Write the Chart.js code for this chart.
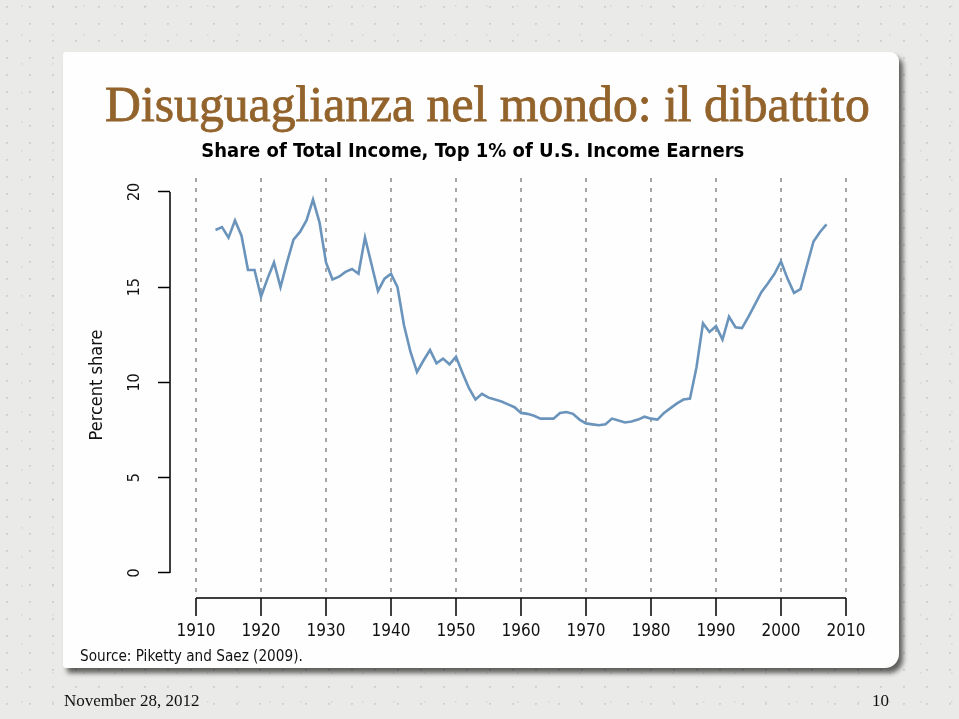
<!DOCTYPE html>
<html><head><meta charset="utf-8">
<script src="https://cdn.jsdelivr.net/npm/chart.js@4"></script>
<style>
html,body{margin:0;padding:0;width:959px;height:719px;overflow:hidden;}
body{background-color:#eaeae8;
  background-image:radial-gradient(circle at 30% 40%, rgba(110,110,110,0.22) 0.7px, transparent 1.3px),
                   radial-gradient(circle at 70% 20%, rgba(140,140,140,0.18) 0.6px, transparent 1.2px);
  background-size:23px 17px, 31px 29px;}
#panel{position:absolute;left:63px;top:52px;width:836px;height:616px;background:#fefefe;border-radius:3px 9px 14px 3px;box-shadow:4px 5px 5px rgba(0,0,0,0.6);}
#slideTitle{position:absolute;left:105px;white-space:nowrap;font-family:'Liberation Serif','Times New Roman',serif;color:#93632c;-webkit-text-stroke:0.8px #93632c;}
.foot{position:absolute;font-family:'Liberation Serif','Times New Roman',serif;color:#111;white-space:nowrap;font-size:17px;line-height:17px;}
#wrap{position:absolute;left:0;top:0;width:959px;height:719px;}
</style></head>
<body>
<div id="panel"></div>
<div id="slideTitle">Disuguaglianza nel mondo: il dibattito</div>
<div id="wrap"><canvas id="c" width="959" height="719"></canvas></div>
<div class="foot" id="date" style="left:64px;top:692px;">November 28, 2012</div>
<div class="foot" id="page" style="left:872px;top:692px;">10</div>
<script>
// ---- data ----
const years = [1913,1914,1915,1916,1917,1918,1919,1920,1921,1922,1923,1924,1925,1926,1927,1928,1929,
  1930,1931,1932,1933,1934,1935,1936,1937,1938,1939,1940,1941,1942,1943,1944,1945,1946,1947,1948,1949,
  1950,1951,1952,1953,1954,1955,1956,1957,1958,1959,1960,1961,1962,1963,1964,1965,1966,1967,1968,1969,
  1970,1971,1972,1973,1974,1975,1976,1977,1978,1979,1980,1981,1982,1983,1984,1985,1986,1987,1988,1989,
  1990,1991,1992,1993,1994,1995,1996,1997,1998,1999,2000,2001,2002,2003,2004,2005,2006,2007];
const share = [18.0,18.15,17.6,18.5,17.7,15.9,15.9,14.5,15.45,16.3,15.0,16.3,17.5,17.9,18.5,19.6,18.4,
  16.3,15.4,15.55,15.8,15.95,15.7,17.6,16.2,14.8,15.45,15.7,15.0,13.0,11.6,10.55,11.15,11.7,11.0,11.25,10.95,
  11.35,10.5,9.7,9.1,9.4,9.2,9.1,9.0,8.85,8.7,8.4,8.35,8.25,8.1,8.1,8.1,8.4,8.45,8.35,8.05,
  7.85,7.8,7.75,7.8,8.1,8.0,7.9,7.95,8.05,8.2,8.1,8.05,8.4,8.65,8.9,9.1,9.15,10.8,13.1,12.65,
  12.95,12.25,13.45,12.9,12.85,13.45,14.1,14.75,15.2,15.7,16.35,15.45,14.7,14.9,16.15,17.4,17.9,18.3];
const xTicks = [1910,1920,1930,1940,1950,1960,1970,1980,1990,2000,2010];
const yTicks = [0,5,10,15,20];
const chartTitle = 'Share of Total Income, Top 1% of U.S. Income Earners';
const yAxisTitle = 'Percent share';
const sourceNote = 'Source: Piketty and Saez (2009).';

// ---- font fitting helpers ----
const mctx = document.createElement('canvas').getContext('2d');
function fitSize(text, family, weight, target, base) {
  mctx.font = weight + ' ' + base + 'px ' + family;
  return base * target / mctx.measureText(text).width;
}
const condFam = "'DejaVu Sans Condensed', 'Liberation Sans Narrow', 'DejaVu Sans', sans-serif";
const narrowFam = "'Liberation Sans Narrow', 'DejaVu Sans Condensed', 'Liberation Sans', sans-serif";

// slide title
const st = document.getElementById('slideTitle');
const stSize = fitSize(st.textContent, "'Liberation Serif'", 'normal', 765, 50);
st.style.fontSize = stSize + 'px';
st.style.lineHeight = stSize + 'px';
st.style.top = (122 - 0.8375 * stSize) + 'px';

const titleFs = Math.min(20, fitSize(chartTitle, condFam, 'bold', 545, 18));
const srcFs = Math.min(16, fitSize(sourceNote, condFam, 'normal', 223, 14));

const padTop = 152 - 0.6 * titleFs;
const titlePadBottom = 178 - padTop - 1.2 * titleFs;
const xAxisH = 52;
const srcPadTop = 657 - (592 + xAxisH) - 0.6 * srcFs;
const padBottom = 719 - 592 - xAxisH - srcPadTop - 1.2 * srcFs;

const axisLines = {
  id: 'axisLines',
  afterDraw(chart) {
    const {ctx, chartArea, scales: {x, y}} = chart;
    ctx.save();
    ctx.strokeStyle = '#000';
    ctx.lineWidth = 1.5;
    ctx.beginPath();
    ctx.moveTo(chartArea.left, y.getPixelForValue(yTicks[0]));
    ctx.lineTo(chartArea.left, y.getPixelForValue(yTicks[yTicks.length - 1]));
    const yb = chartArea.bottom + 6;
    ctx.moveTo(x.getPixelForValue(xTicks[0]), yb);
    ctx.lineTo(x.getPixelForValue(xTicks[xTicks.length - 1]), yb);
    ctx.stroke();
    ctx.restore();
  }
};

new Chart(document.getElementById('c'), {
  type: 'line',
  data: {
    datasets: [{
      data: years.map((yr, i) => ({x: yr, y: share[i]})),
      borderColor: '#6a94bb',
      borderWidth: 2.6,
      pointRadius: 0,
      tension: 0,
      fill: false
    }]
  },
  options: {
    responsive: false,
    animation: false,
    devicePixelRatio: 1,
    layout: {padding: {left: 80, right: 959 - 865.5, top: padTop, bottom: padBottom}},
    plugins: {
      legend: {display: false},
      tooltip: {enabled: false},
      title: {
        display: true, text: chartTitle, color: '#000',
        font: {family: condFam, size: titleFs, weight: 'bold', lineHeight: 1.2},
        padding: {top: 0, bottom: titlePadBottom}
      },
      subtitle: {
        display: true, text: sourceNote, position: 'bottom', align: 'start', color: '#111',
        font: {family: condFam, size: srcFs, weight: 'normal', lineHeight: 1.2},
        padding: {top: srcPadTop, bottom: 0}
      }
    },
    scales: {
      x: {
        type: 'linear', min: 1906, max: 2013,
        afterBuildTicks: s => { s.ticks = xTicks.map(v => ({value: v})); },
        afterFit: s => { s.height = xAxisH; s.paddingLeft = 0; s.paddingRight = 0; },
        ticks: {
          callback: v => String(v), color: '#111', padding: 5, maxRotation: 0, autoSkip: false,
          font: {family: narrowFam, size: 17}
        },
        grid: {
          display: true, drawOnChartArea: true, drawTicks: true, color: '#a6a6a6', lineWidth: 2,
          tickLength: 24, tickColor: '#000', tickWidth: 1.5, tickBorderDash: [0, 6, 18, 100]
        },
        border: {display: false, dash: [4, 6]}
      },
      y: {
        type: 'linear', min: -1, max: 20.73,
        afterBuildTicks: s => { s.ticks = yTicks.map(v => ({value: v})); },
        afterFit: s => { s.width = 90; s.paddingTop = 0; s.paddingBottom = 0; },
        ticks: {
          color: '#111', padding: 14, minRotation: 90, maxRotation: 90, crossAlign: 'center',
          font: {family: narrowFam, size: 16}
        },
        grid: {display: true, drawOnChartArea: false, drawTicks: true, tickLength: 12, tickColor: '#000', tickWidth: 1.5},
        border: {display: false},
        title: {
          display: true, text: yAxisTitle, color: '#111',
          font: {family: narrowFam, size: 18, lineHeight: 1.2}, padding: {top: 7, bottom: 0}
        }
      }
    }
  },
  plugins: [axisLines]
});
</script>
</body></html>
